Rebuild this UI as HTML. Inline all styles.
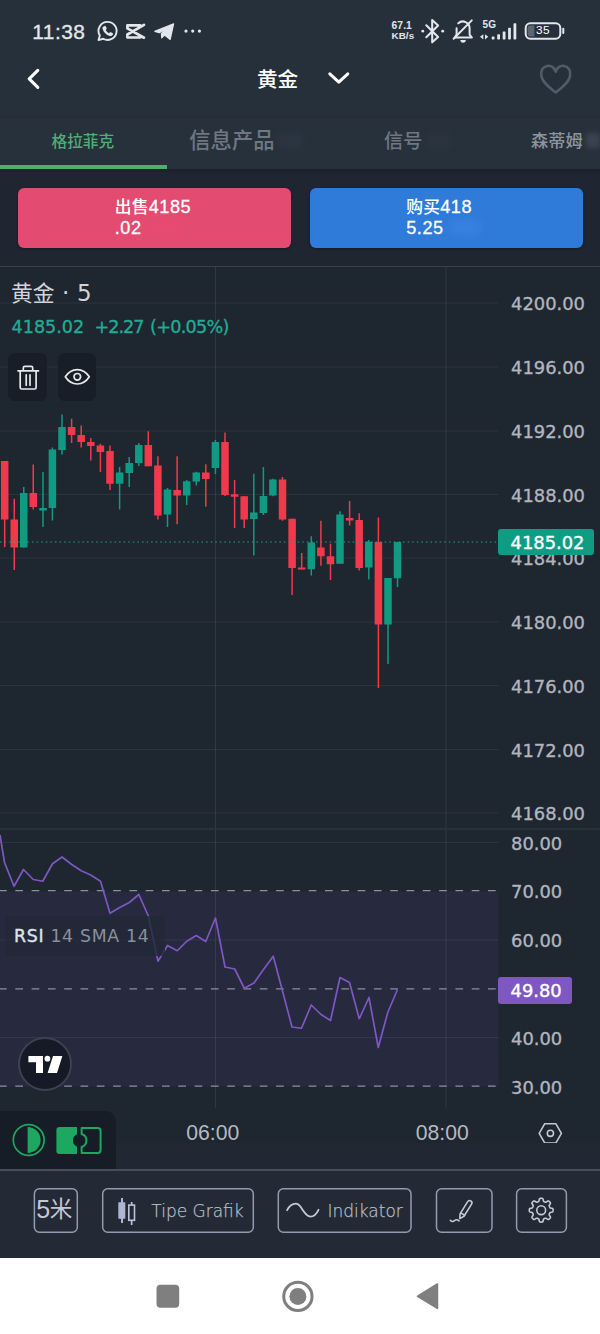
<!DOCTYPE html><html lang="zh"><head><meta charset="utf-8"><title>黄金</title>
<style>
*{box-sizing:border-box}
html,body{margin:0;padding:0}
body{width:600px;height:1334px;position:relative;overflow:hidden;background:#1f2631;
 font-family:"Liberation Sans","Noto Sans CJK SC",sans-serif;color:#fff}
.abs{position:absolute}
#hdr{position:absolute;left:0;top:0;width:600px;height:117px;background:#26303b}
#tabs{position:absolute;left:0;top:117px;width:600px;height:52px;background:#27313c}
#hsh{position:absolute;left:0;top:113px;width:600px;height:6px;background:linear-gradient(180deg,rgba(30,37,48,0),rgba(30,37,48,0.12) 40%,rgba(30,37,48,0.5) 66%,rgba(30,37,48,0.12) 88%,rgba(30,37,48,0))}
#tsh{position:absolute;left:0;top:169px;width:600px;height:5px;background:linear-gradient(180deg,rgba(20,25,33,0.35),rgba(20,25,33,0))}
.tab{position:absolute;white-space:nowrap;line-height:1}
.btn{position:absolute;top:187.5px;height:60px;border-radius:6px;color:#fff;font-size:18.1px;line-height:21.6px;overflow:hidden;box-shadow:0 1px 2.5px rgba(0,0,0,0.35)}
.btn span{position:absolute;top:9px;white-space:nowrap;-webkit-text-stroke:0.3px #fff;letter-spacing:0.5px}
.btn b{font-weight:500;font-size:16.8px;letter-spacing:0.2px;-webkit-text-stroke:0}
.ax{position:absolute;left:511px;height:22px;line-height:22px;font-family:"DejaVu Sans","Liberation Sans",sans-serif;
 font-size:17.9px;color:#b2b5be;white-space:nowrap;-webkit-text-stroke:0.35px #b2b5be}
.tv{font-family:"DejaVu Sans","Liberation Sans","Noto Sans CJK SC",sans-serif}
#tool{position:absolute;left:0;top:1169px;width:600px;height:89px;background:#232a36;border-top:2px solid #464e5c}
.tb{position:absolute;top:1188.5px;height:44px;border:1.6px solid #8f99ab;border-radius:5px}
.tb span{position:absolute;top:0;line-height:41px;font-family:"DejaVu Sans","Liberation Sans",sans-serif;font-size:17px;color:#aab2c0;white-space:nowrap}
#nav{position:absolute;left:0;top:1258px;width:600px;height:76px;background:#fff}
</style></head><body>
<div id="hdr">
<div class="abs" style="left:32.300px;top:20px;font-size:20.900px;line-height:24px;color:#e3e6ea;letter-spacing:0.45px;-webkit-text-stroke:0.35px #e3e6ea">11:38</div>
<svg class="abs" style="left:0;top:0" width="600" height="52" viewBox="0 0 600 52" fill="none" stroke="#e3e6ea">
<path d="M107.6 21.9a9 9 0 1 1-4.4 16.85l-4.7 1.35 1.35-4.5a9 9 0 0 1 7.75-13.7z" stroke-width="1.9" stroke-linejoin="round"/>
<path d="M104.6 25.9c.5-.2 1 0 1.2.5l.8 1.7c.2.4.1.8-.2 1.1l-.7.8c.7 1.4 1.800 2.500 3.200 3.200l.8-.7c.3-.3.700-.4 1.100-.2l1.700.8c.5.200.700.700.500 1.200-.5 1.400-1.900 2.100-3.300 1.700-3.500-1-6.200-3.700-7.200-7.200-.400-1.400.500-2.500 2.100-2.900z" fill="#e3e6ea" stroke="none"/>
<path d="M127.400 28.400V25.400H140.200M127.400 34.500V37.500H140.200M127.400 28.400L144 37.700M127.400 34.500L144 24.800" stroke-width="2.700" stroke-linejoin="round" stroke-linecap="round"/>
<path d="M154.800 31.400l18.800-7.600-3.400 15.600-5.600-4.300-2.900 2.800-.3-4.500 7.300-6.600-9.300 5.900z" fill="#e3e6ea" stroke="#e3e6ea" stroke-width="1.200" stroke-linejoin="round"/>
<circle cx="186" cy="31.100" r="1.600" fill="#e3e6ea" stroke="none"/>
<circle cx="192.7" cy="31.100" r="1.600" fill="#e3e6ea" stroke="none"/>
<circle cx="199.4" cy="31.100" r="1.600" fill="#e3e6ea" stroke="none"/>
<path d="M426.300 25.300l11.800 11.700-5.900 5.300v-22.200l5.900 5.400-11.800 11.700" stroke-width="2.100" stroke-linejoin="round" stroke-linecap="round"/>
<circle cx="422.800" cy="31.200" r="1.400" fill="#e3e6ea" stroke="none"/><circle cx="442.700" cy="31.200" r="1.400" fill="#e3e6ea" stroke="none"/>
<path d="M455.500 37.600h16.400l-2.300-3v-6.300a6.700 6.700 0 0 0-11.300-5M456.600 28.300v6.300l-1.900 3" stroke-width="2" stroke-linejoin="round" stroke-linecap="round"/>
<path d="M471.800 20.400l-18.200 18.400" stroke-width="2" stroke-linecap="round"/>
<path d="M460.400 40a2.700 2.700 0 0 0 5.400 0z" fill="#e3e6ea" stroke="none"/>
<path d="M480 36.800l3.300-2.600v5.200zM488.300 36.800l-3.300 2.600v-5.200z" fill="#e3e6ea" stroke="none"/>
<rect x="491.7" y="36.4" width="2.800" height="3.00" rx="0.700" fill="#e3e6ea" stroke="none"/>
<rect x="497.2" y="34.2" width="2.800" height="5.20" rx="0.700" fill="#e3e6ea" stroke="none"/>
<rect x="502.7" y="31.4" width="2.800" height="8.00" rx="0.700" fill="#e3e6ea" stroke="none"/>
<rect x="508.1" y="27.8" width="2.800" height="11.60" rx="0.700" fill="#e3e6ea" stroke="none"/>
<rect x="513.5" y="23.2" width="2.800" height="16.20" rx="0.700" fill="#e3e6ea" stroke="none"/>
<rect x="525.700" y="23.300" width="34.600" height="15.400" rx="4.600" stroke-width="2"/>
<path d="M529.800 25.600h4.600v10.800h-4.600a2.200 2.200 0 0 1-2.200-2.200v-6.400a2.200 2.200 0 0 1 2.200-2.200z" fill="#5d6570" stroke="none"/>
<rect x="562.300" y="27.800" width="2" height="6.200" rx="0.900" fill="#e3e6ea" stroke="none"/>
</svg>
<div class="abs" style="left:391.500px;top:20.800px;font-size:10.300px;line-height:10px;font-weight:700;color:#e3e6ea;letter-spacing:0.1px">67.1<br><span style="font-size:9.800px">KB/s</span></div>
<div class="abs" style="left:482.600px;top:20.200px;font-size:10px;line-height:10px;font-weight:700;color:#e3e6ea">5G</div>
<div class="abs" style="left:525.700px;top:23.300px;width:34.600px;text-align:center;font-size:11.800px;line-height:15.600px;color:#fff;letter-spacing:0.3px">35</div>
<svg class="abs" style="left:20px;top:60px" width="30" height="36" viewBox="20 60 30 36" fill="none" stroke="#fff" stroke-width="3.100" stroke-linecap="round" stroke-linejoin="round"><path d="M37.800 70.300l-8.600 8.500 8.600 8.500"/></svg>
<div class="abs" style="left:257px;top:65.500px;font-size:20.600px;line-height:28px;font-weight:500;color:#fff;font-family:'Liberation Sans','Noto Sans CJK SC',sans-serif">黄金</div>
<svg class="abs" style="left:320px;top:64px" width="40" height="28" viewBox="320 64 40 28" fill="none" stroke="#fff" stroke-width="3" stroke-linecap="round" stroke-linejoin="round"><path d="M329.800 73.800l9 8.300 9-8.300"/></svg>
<svg class="abs" style="left:534px;top:60px" width="44" height="40" viewBox="534 60 44 40" fill="none" stroke="#525b68" stroke-width="2.600" stroke-linejoin="round"><path d="M555.700 92.500c-9-6.800-14.400-12-14.400-18a7.300 7.300 0 0 1 14.400-2.700 7.300 7.300 0 0 1 14.400 2.700c0 6-5.400 11.200-14.400 18z"/></svg>
</div>
<div id="tabs">
<div class="tab" style="left:51.500px;top:17px;font-size:15.700px;color:#4fae74;font-weight:500">格拉菲克</div>
<div class="tab" style="left:189.300px;top:14.300px;font-size:21.300px;color:#6f7783;font-weight:500">信息产品</div>
<div class="tab" style="left:384px;top:14.500px;font-size:19.200px;color:#6f7783;font-weight:500">信号</div>
<div class="tab" style="left:531px;top:16px;font-size:17.200px;color:#8d949e;font-weight:500">森蒂姆</div>
<div class="abs" style="left:277px;top:17px;width:26px;height:14px;background:#2c3541;filter:blur(3px);border-radius:4px"></div>
<div class="abs" style="left:428px;top:17px;width:22px;height:14px;background:#2b343f;filter:blur(3px);border-radius:4px"></div>
<div class="abs" style="left:586px;top:16px;width:14px;height:15px;background:#3a434f;filter:blur(2.500px);border-radius:3px"></div>
<div class="abs" style="left:0;top:48px;width:166.500px;height:4.300px;background:#4caf6e"></div>
</div>
<div id="hsh"></div><div id="tsh"></div>
<div class="btn" style="left:17.500px;width:273.500px;background:#e34c70"><div class="abs" style="left:130px;top:33px;width:36px;height:13px;background:#ea4a72;filter:blur(4px);opacity:.8"></div><span style="left:97.300px"><b>出售</b>4185<br>.02</span></div>
<div class="btn" style="left:310px;width:272.500px;background:#2f7bd9"><div class="abs" style="left:140px;top:33px;width:30px;height:13px;background:#3b86e2;filter:blur(4px);opacity:.8"></div><span style="left:96.300px"><b>购买</b>418<br>5.25</span></div>
<svg id="chart" width="600" height="903" viewBox="0 266 600 903" style="position:absolute;left:0;top:266px">
<rect x="0" y="266" width="600" height="903" fill="#1e2630"/>
<rect x="0" y="891.3" width="498.5" height="195.5" fill="#27293e"/>
<rect x="0" y="302.5" width="498.5" height="1" fill="rgba(235,240,250,0.068)"/>
<rect x="0" y="366.5" width="498.5" height="1" fill="rgba(235,240,250,0.068)"/>
<rect x="0" y="430.5" width="498.5" height="1" fill="rgba(235,240,250,0.068)"/>
<rect x="0" y="494.0" width="498.5" height="1" fill="rgba(235,240,250,0.068)"/>
<rect x="0" y="557.5" width="498.5" height="1" fill="rgba(235,240,250,0.068)"/>
<rect x="0" y="621.5" width="498.5" height="1" fill="rgba(235,240,250,0.068)"/>
<rect x="0" y="685.0" width="498.5" height="1" fill="rgba(235,240,250,0.068)"/>
<rect x="0" y="749.0" width="498.5" height="1" fill="rgba(235,240,250,0.068)"/>
<rect x="0" y="812.5" width="498.5" height="1" fill="rgba(235,240,250,0.068)"/>
<rect x="0" y="842.0" width="498.5" height="1" fill="rgba(235,240,250,0.068)"/>
<rect x="0" y="939.5" width="498.5" height="1" fill="rgba(235,240,250,0.068)"/>
<rect x="0" y="1037.0" width="498.5" height="1" fill="rgba(235,240,250,0.068)"/>
<rect x="215.0" y="266" width="1" height="842" fill="rgba(235,240,250,0.085)"/>
<rect x="445.5" y="266" width="1" height="842" fill="rgba(235,240,250,0.085)"/>
<rect x="0" y="265.3" width="600" height="1.6" fill="#3a424f"/>
<rect x="0" y="828.1" width="600" height="1.8" fill="#2a323d"/>
<rect x="3.95" y="461" width="1.5" height="86.00" fill="#f03a4c"/>
<rect x="0.95" y="461" width="7.5" height="58.50" fill="#f03a4c"/>
<rect x="13.50" y="498.75" width="1.5" height="71.25" fill="#f03a4c"/>
<rect x="10.50" y="519.5" width="7.5" height="28.00" fill="#f03a4c"/>
<rect x="23.00" y="487" width="1.5" height="60.50" fill="#0f9b83"/>
<rect x="20.00" y="493" width="7.5" height="54.50" fill="#0f9b83"/>
<rect x="32.50" y="464.5" width="1.5" height="45.00" fill="#f03a4c"/>
<rect x="29.50" y="493" width="7.5" height="14.00" fill="#f03a4c"/>
<rect x="42.25" y="472" width="1.5" height="55.00" fill="#0f9b83"/>
<rect x="39.25" y="508" width="7.5" height="2.50" fill="#0f9b83"/>
<rect x="51.65" y="447.5" width="1.5" height="73.00" fill="#0f9b83"/>
<rect x="48.65" y="449.5" width="7.5" height="58.50" fill="#0f9b83"/>
<rect x="61.25" y="414.5" width="1.5" height="40.00" fill="#0f9b83"/>
<rect x="58.25" y="427" width="7.5" height="23.00" fill="#0f9b83"/>
<rect x="70.85" y="418.75" width="1.5" height="24.25" fill="#f03a4c"/>
<rect x="67.85" y="427" width="7.5" height="8.00" fill="#f03a4c"/>
<rect x="80.45" y="425.5" width="1.5" height="22.00" fill="#f03a4c"/>
<rect x="77.45" y="435" width="7.5" height="7.00" fill="#f03a4c"/>
<rect x="90.05" y="438" width="1.5" height="22.50" fill="#f03a4c"/>
<rect x="87.05" y="442" width="7.5" height="4.00" fill="#f03a4c"/>
<rect x="99.65" y="443.75" width="1.5" height="28.25" fill="#f03a4c"/>
<rect x="96.65" y="445.5" width="7.5" height="6.50" fill="#f03a4c"/>
<rect x="109.25" y="445.5" width="1.5" height="44.50" fill="#f03a4c"/>
<rect x="106.25" y="451" width="7.5" height="32.75" fill="#f03a4c"/>
<rect x="118.85" y="467" width="1.5" height="42.50" fill="#0f9b83"/>
<rect x="115.85" y="472.5" width="7.5" height="11.25" fill="#0f9b83"/>
<rect x="128.45" y="457" width="1.5" height="30.00" fill="#0f9b83"/>
<rect x="125.45" y="463" width="7.5" height="10.00" fill="#0f9b83"/>
<rect x="138.05" y="443" width="1.5" height="23.00" fill="#0f9b83"/>
<rect x="135.05" y="445" width="7.5" height="18.00" fill="#0f9b83"/>
<rect x="147.55" y="431.25" width="1.5" height="35.00" fill="#f03a4c"/>
<rect x="144.55" y="445" width="7.5" height="21.25" fill="#f03a4c"/>
<rect x="157.15" y="456.25" width="1.5" height="63.25" fill="#f03a4c"/>
<rect x="154.15" y="465.5" width="7.5" height="50.00" fill="#f03a4c"/>
<rect x="166.75" y="488" width="1.5" height="39.00" fill="#0f9b83"/>
<rect x="163.75" y="489.5" width="7.5" height="25.00" fill="#0f9b83"/>
<rect x="176.35" y="456.25" width="1.5" height="68.00" fill="#f03a4c"/>
<rect x="173.35" y="490" width="7.5" height="5.50" fill="#f03a4c"/>
<rect x="185.95" y="480" width="1.5" height="25.00" fill="#0f9b83"/>
<rect x="182.95" y="481.25" width="7.5" height="14.25" fill="#0f9b83"/>
<rect x="195.55" y="471.75" width="1.5" height="13.75" fill="#0f9b83"/>
<rect x="192.55" y="472.5" width="7.5" height="9.00" fill="#0f9b83"/>
<rect x="205.05" y="464.25" width="1.5" height="42.50" fill="#f03a4c"/>
<rect x="202.05" y="472.5" width="7.5" height="6.50" fill="#f03a4c"/>
<rect x="214.65" y="440" width="1.5" height="34.00" fill="#0f9b83"/>
<rect x="211.65" y="442" width="7.5" height="26.00" fill="#0f9b83"/>
<rect x="224.25" y="432.5" width="1.5" height="63.50" fill="#f03a4c"/>
<rect x="221.25" y="442" width="7.5" height="53.00" fill="#f03a4c"/>
<rect x="233.85" y="480" width="1.5" height="48.00" fill="#f03a4c"/>
<rect x="230.85" y="494.25" width="7.5" height="2.50" fill="#f03a4c"/>
<rect x="243.45" y="496.25" width="1.5" height="31.75" fill="#f03a4c"/>
<rect x="240.45" y="496.25" width="7.5" height="23.25" fill="#f03a4c"/>
<rect x="253.05" y="473.75" width="1.5" height="81.75" fill="#0f9b83"/>
<rect x="250.05" y="512.5" width="7.5" height="6.50" fill="#0f9b83"/>
<rect x="262.65" y="467" width="1.5" height="48.00" fill="#0f9b83"/>
<rect x="259.65" y="496" width="7.5" height="17.00" fill="#0f9b83"/>
<rect x="272.15" y="478.75" width="1.5" height="17.50" fill="#0f9b83"/>
<rect x="269.15" y="479.5" width="7.5" height="16.00" fill="#0f9b83"/>
<rect x="281.75" y="477" width="1.5" height="43.75" fill="#f03a4c"/>
<rect x="278.75" y="479.5" width="7.5" height="40.00" fill="#f03a4c"/>
<rect x="291.35" y="518.75" width="1.5" height="76.25" fill="#f03a4c"/>
<rect x="288.35" y="518.75" width="7.5" height="49.25" fill="#f03a4c"/>
<rect x="300.95" y="553" width="1.5" height="16.50" fill="#f03a4c"/>
<rect x="297.95" y="567.5" width="7.5" height="2.00" fill="#f03a4c"/>
<rect x="310.55" y="536.25" width="1.5" height="39.25" fill="#0f9b83"/>
<rect x="307.55" y="542.5" width="7.5" height="26.75" fill="#0f9b83"/>
<rect x="320.15" y="520.75" width="1.5" height="45.00" fill="#f03a4c"/>
<rect x="317.15" y="547.5" width="7.5" height="8.75" fill="#f03a4c"/>
<rect x="329.75" y="543.75" width="1.5" height="36.25" fill="#f03a4c"/>
<rect x="326.75" y="556.25" width="7.5" height="8.00" fill="#f03a4c"/>
<rect x="339.25" y="511.25" width="1.5" height="52.50" fill="#0f9b83"/>
<rect x="336.25" y="514.5" width="7.5" height="49.25" fill="#0f9b83"/>
<rect x="348.85" y="501" width="1.5" height="24.50" fill="#f03a4c"/>
<rect x="345.85" y="518" width="7.5" height="2.50" fill="#f03a4c"/>
<rect x="358.45" y="513.25" width="1.5" height="57.25" fill="#f03a4c"/>
<rect x="355.45" y="520" width="7.5" height="48.00" fill="#f03a4c"/>
<rect x="368.05" y="540" width="1.5" height="39.50" fill="#0f9b83"/>
<rect x="365.05" y="541.75" width="7.5" height="25.75" fill="#0f9b83"/>
<rect x="377.65" y="517.5" width="1.5" height="170.50" fill="#f03a4c"/>
<rect x="374.65" y="542" width="7.5" height="82.50" fill="#f03a4c"/>
<rect x="387.25" y="578" width="1.5" height="86.00" fill="#0f9b83"/>
<rect x="384.25" y="578" width="7.5" height="46.50" fill="#0f9b83"/>
<rect x="396.75" y="542" width="1.5" height="45.00" fill="#0f9b83"/>
<rect x="393.75" y="542" width="7.5" height="36.25" fill="#0f9b83"/>
<line x1="0" y1="542" x2="498.5" y2="542" stroke="#20a18a" stroke-width="1.2" stroke-dasharray="1.5 3.08"/>
<line x1="0" y1="890.7" x2="498.5" y2="890.7" stroke="#8c909b" stroke-width="1.3" stroke-dasharray="7.7 8.6" stroke-dashoffset="1"/>
<line x1="0" y1="988.8" x2="498.5" y2="988.8" stroke="#8c909b" stroke-width="1.3" stroke-dasharray="7.7 8.6" stroke-dashoffset="1"/>
<line x1="0" y1="1086.2" x2="498.5" y2="1086.2" stroke="#8c909b" stroke-width="1.3" stroke-dasharray="7.7 8.6" stroke-dashoffset="1"/>
<polyline points="0,835 4.5,862.5 14,886.25 23.5,869.5 33.25,879.5 42.75,881.25 52.5,863.75 62,857 71.75,864.5 81.25,870.75 90.75,875 100.5,881.25 110,913.25 119.75,907.5 129.25,902.5 138.8,894.5 148.25,915.75 158,961.25 167.5,945.5 177.25,950.75 186.75,941.25 196.25,935.5 205.75,941.5 215.5,918 225,967 234.75,969 244.25,988.25 254,983 263.5,969.5 273.25,956.25 282.5,991 292,1027 301.5,1028.25 311.25,1005 320.75,1014.25 330.5,1020.5 340,977.5 349.5,982.5 359.25,1018.75 369,997.5 378.25,1047.5 387.75,1012.5 397.5,989.5" fill="none" stroke="#7e57c2" stroke-width="1.7" stroke-linejoin="round"/>
</svg>
<div class="ax" style="top:293px">4200.00</div>
<div class="ax" style="top:357px">4196.00</div>
<div class="ax" style="top:421px">4192.00</div>
<div class="ax" style="top:484.5px">4188.00</div>
<div class="ax" style="top:548px">4184.00</div>
<div class="ax" style="top:612px">4180.00</div>
<div class="ax" style="top:675.5px">4176.00</div>
<div class="ax" style="top:739.5px">4172.00</div>
<div class="ax" style="top:803px">4168.00</div>
<div class="ax" style="top:832.5px">80.00</div>
<div class="ax" style="top:881.3px">70.00</div>
<div class="ax" style="top:930px">60.00</div>
<div class="ax" style="top:1027.5px">40.00</div>
<div class="ax" style="top:1076.5px">30.00</div>
<div class="abs tv" style="left:11px;top:279px;font-size:23px;line-height:28px;color:#d1d4dc;white-space:nowrap;word-spacing:0.200px"><span style="font-size:21.800px">黄金</span> · 5</div>
<div class="abs tv" style="left:11.500px;top:315.500px;font-size:17.600px;line-height:22px;color:#22ab94;white-space:nowrap;-webkit-text-stroke:0.350px #22ab94">4185.02</div>
<div class="abs tv" style="left:94.500px;top:315.500px;font-size:17.600px;line-height:22px;color:#22ab94;white-space:nowrap;-webkit-text-stroke:0.350px #22ab94;letter-spacing:-1px">+2.27</div>
<div class="abs tv" style="left:150px;top:315.500px;font-size:17.600px;line-height:22px;color:#22ab94;white-space:nowrap;-webkit-text-stroke:0.350px #22ab94;letter-spacing:-0.700px">(+0.05%)</div>
<div class="abs" style="left:8.400px;top:353.200px;width:38.800px;height:47.800px;border-radius:7px;background:#171e28"></div>
<div class="abs" style="left:57.600px;top:353.200px;width:38.600px;height:47.800px;border-radius:7px;background:#171e28"></div>
<svg class="abs" style="left:9px;top:353px" width="87" height="48" viewBox="9 353 87 48" fill="none" stroke="#e6e8ec" stroke-width="1.700" stroke-linecap="round" stroke-linejoin="round">
<path d="M18 370.800h20.500M23.300 370.500v-2.700a1.500 1.500 0 0 1 1.500-1.500h6.400a1.500 1.500 0 0 1 1.500 1.500v2.700M20.200 371.300v16.200a1.500 1.500 0 0 0 1.500 1.500h12.900a1.500 1.500 0 0 0 1.500-1.500v-16.200M26.200 374.800v10.400M30 374.800v10.400"/>
<path d="M65.300 376.800c3-4.700 7.200-7.200 12-7.200s9 2.500 12 7.200c-3 4.700-7.200 7.200-12 7.200s-9-2.500-12-7.200z"/><circle cx="77.300" cy="376.800" r="3.300"/>
</svg>
<div class="abs tv" style="left:498px;top:528.500px;width:96px;height:26.500px;border-radius:3px;background:#0f9c83;color:#fff;font-size:17.900px;line-height:28px;padding-left:12.500px;-webkit-text-stroke:0.400px #fff">4185.02</div>
<div class="abs tv" style="left:5px;top:916px;width:160px;height:40px;border-radius:3px;background:rgba(35,40,56,0.8);font-size:17.300px;line-height:41px;padding-left:9px;color:#8b909c;white-space:nowrap;letter-spacing:0.700px"><span style="color:#dfe2e8;-webkit-text-stroke:0.400px #dfe2e8">RSI</span> 14 SMA 14</div>
<div class="abs tv" style="left:498px;top:976.500px;width:74px;height:27px;border-radius:3px;background:#7e57c2;color:#fff;font-size:17.900px;line-height:28.500px;padding-left:12.500px;-webkit-text-stroke:0.400px #fff">49.80</div>
<svg class="abs" style="left:16px;top:1035px" width="58" height="58" viewBox="16 1035 58 58"><circle cx="45" cy="1064" r="26" fill="#161a26" stroke="#3d4252" stroke-width="2"/><path d="M28.400 1056h14.600v17h-7v-10.800h-7.600zM53 1056h9.400l-5.400 17h-9.400z" fill="#fff"/><circle cx="47.400" cy="1058.700" r="2.900" fill="#fff"/></svg>
<div class="abs" style="left:186.300px;top:1120.500px;font-size:21.200px;line-height:24px;color:#b6bac3;white-space:nowrap">06:00</div>
<div class="abs" style="left:415.800px;top:1120.500px;font-size:21.200px;line-height:24px;color:#b6bac3;white-space:nowrap">08:00</div>
<svg class="abs" style="left:536px;top:1120px" width="28" height="28" viewBox="536 1120 28 28" fill="none" stroke="#c3c7cf" stroke-width="1.600" stroke-linejoin="round"><path d="M539.200 1133.400l5.600-9.700h11l5.600 9.700-5.600 9.700h-11z"/><circle cx="550.400" cy="1133.300" r="3.100"/></svg>
<div class="abs" style="left:0;top:1142.500px;width:600px;height:26.500px;background:#212834"></div>
<div class="abs" style="left:0;top:1110.500px;width:116px;height:59px;border-top-right-radius:11px;background:#161d27"></div>
<svg class="abs" style="left:0;top:1110px" width="116" height="59" viewBox="0 1110 116 59">
<circle cx="28.700" cy="1140" r="15.400" fill="none" stroke="#1ca861" stroke-width="1.700"/>
<path d="M27.600 1127a13 13 0 0 1 0 26z" fill="#1ca861"/>
<path d="M59.400 1127H77V1134.370A6.700 6.700 0 0 0 77 1146.630V1154H59.400a3 3 0 0 1-3-3v-21a3 3 0 0 1 3-3z" fill="#1ca861"/>
<path d="M81.600 1128H97.600a3 3 0 0 1 3 3V1150a3 3 0 0 1-3 3H81.600V1146.920A6.700 6.700 0 0 0 81.600 1134.080z" fill="none" stroke="#1ca861" stroke-width="2" stroke-linejoin="round"/>
</svg>
<div id="tool"></div>
<svg class="abs" style="left:0;top:1180px" width="600" height="60" viewBox="0 1180 600 60" fill="none" stroke="#929cae" stroke-width="1.500">
<rect x="34.4" y="1188.700" width="42.9" height="43.600" rx="5"/>
<rect x="102.7" y="1188.700" width="150.6" height="43.600" rx="5"/>
<rect x="278.3" y="1188.700" width="132.7" height="43.600" rx="5"/>
<rect x="436.5" y="1188.700" width="55.5" height="43.600" rx="5"/>
<rect x="516.6" y="1188.700" width="49.8" height="43.600" rx="5"/>
</svg>
<div style="position:absolute;left:36.200px;top:1194.300px;white-space:nowrap;font-size:25px;line-height:30px;color:#c2c8d3;font-family:'Liberation Sans','Noto Sans CJK SC',sans-serif">5<span style="font-size:22.600px;margin-left:-0.300px;position:relative;top:-1.200px">米</span></div>
<div style="position:absolute;white-space:nowrap;font-family:'DejaVu Sans','Liberation Sans',sans-serif;font-size:17px;line-height:22px;color:#b4bbc8;font-weight:200;-webkit-text-stroke:0.25px #b4bbc8;left:151.300px;top:1199.500px">Tipe Grafik</div>
<div style="position:absolute;white-space:nowrap;font-family:'DejaVu Sans','Liberation Sans',sans-serif;font-size:17px;line-height:22px;color:#b4bbc8;font-weight:200;-webkit-text-stroke:0.25px #b4bbc8;left:327.500px;top:1199.500px">Indikator</div>
<svg class="abs" style="left:115px;top:1195px" width="26" height="34" viewBox="115 1195 26 34"><rect x="121" y="1198" width="2" height="25" fill="#adb5d3"/><rect x="118.300" y="1202.300" width="7" height="16.400" rx="0.400" fill="#adb5d3"/><rect x="130.800" y="1202" width="1.700" height="3" fill="#bcc2d9"/><rect x="130.800" y="1220.500" width="1.700" height="4.500" fill="#bcc2d9"/><rect x="128.800" y="1205.100" width="5.700" height="15.200" fill="none" stroke="#bcc2d9" stroke-width="1.600"/></svg>
<svg class="abs" style="left:284px;top:1198px" width="38" height="24" viewBox="284 1198 38 24" fill="none" stroke="#c3c9d6" stroke-width="1.800" stroke-linecap="round"><path d="M287.100 1210.200C289.300 1206 292.300 1203.700 295.800 1203.700S300.700 1207 302.900 1210.300S307 1216.600 310.400 1216.600S316.500 1214 318.500 1209.800"/></svg>
<svg class="abs" style="left:445px;top:1195px" width="36" height="32" viewBox="445 1195 36 32" fill="none" stroke="#c3c9d6" stroke-width="1.600" stroke-linecap="round" stroke-linejoin="round"><path d="M459.800 1218.600L463.980 1216.260L471.560 1204.130A2.300 2.300 0 0 0 467.660 1201.690L460.080 1213.820Z"/><path d="M464.600 1215.300L460.700 1212.850"/><path d="M450.300 1220.300c1.500 1.700 3 1.400 4.300.3s2.800-1.100 4.500.2"/></svg>
<svg class="abs" style="left:525px;top:1194px" width="34" height="34" viewBox="525 1194 34 34" fill="none" stroke="#c3c9d6" stroke-width="1.600" stroke-linejoin="round"><path d="M541.20 1198.30L541.51 1198.31L541.82 1198.33L542.13 1198.37L542.43 1198.45L542.72 1198.62L542.98 1198.96L543.17 1199.57L543.30 1200.33L543.42 1200.94L543.59 1201.29L543.78 1201.48L543.99 1201.61L544.21 1201.70L544.43 1201.80L544.64 1201.89L544.86 1201.98L545.08 1202.07L545.30 1202.15L545.54 1202.21L545.81 1202.21L546.17 1202.08L546.69 1201.74L547.32 1201.29L547.89 1200.99L548.31 1200.93L548.63 1201.02L548.91 1201.18L549.15 1201.37L549.39 1201.57L549.61 1201.79L549.83 1202.01L550.03 1202.25L550.22 1202.49L550.38 1202.77L550.47 1203.09L550.41 1203.51L550.11 1204.08L549.66 1204.71L549.32 1205.23L549.19 1205.59L549.19 1205.86L549.25 1206.10L549.33 1206.32L549.42 1206.54L549.51 1206.76L549.60 1206.97L549.70 1207.19L549.79 1207.41L549.92 1207.62L550.11 1207.81L550.46 1207.98L551.07 1208.10L551.83 1208.23L552.44 1208.42L552.78 1208.68L552.95 1208.97L553.03 1209.27L553.07 1209.58L553.09 1209.89L553.10 1210.20L553.09 1210.51L553.07 1210.82L553.03 1211.13L552.95 1211.43L552.78 1211.72L552.44 1211.98L551.83 1212.17L551.07 1212.30L550.46 1212.42L550.11 1212.59L549.92 1212.78L549.79 1212.99L549.70 1213.21L549.60 1213.43L549.51 1213.64L549.42 1213.86L549.33 1214.08L549.25 1214.30L549.19 1214.54L549.19 1214.81L549.32 1215.17L549.66 1215.69L550.11 1216.32L550.41 1216.89L550.47 1217.31L550.38 1217.63L550.22 1217.91L550.03 1218.15L549.83 1218.39L549.61 1218.61L549.39 1218.83L549.15 1219.03L548.91 1219.22L548.63 1219.38L548.31 1219.47L547.89 1219.41L547.32 1219.11L546.69 1218.66L546.17 1218.32L545.81 1218.19L545.54 1218.19L545.30 1218.25L545.08 1218.33L544.86 1218.42L544.64 1218.51L544.43 1218.60L544.21 1218.70L543.99 1218.79L543.78 1218.92L543.59 1219.11L543.42 1219.46L543.30 1220.07L543.17 1220.83L542.98 1221.44L542.72 1221.78L542.43 1221.95L542.13 1222.03L541.82 1222.07L541.51 1222.09L541.20 1222.10L540.89 1222.09L540.58 1222.07L540.27 1222.03L539.97 1221.95L539.68 1221.78L539.42 1221.44L539.23 1220.83L539.10 1220.07L538.98 1219.46L538.81 1219.11L538.62 1218.92L538.41 1218.79L538.19 1218.70L537.97 1218.60L537.76 1218.51L537.54 1218.42L537.32 1218.33L537.10 1218.25L536.86 1218.19L536.59 1218.19L536.23 1218.32L535.71 1218.66L535.08 1219.11L534.51 1219.41L534.09 1219.47L533.77 1219.38L533.49 1219.22L533.25 1219.03L533.01 1218.83L532.79 1218.61L532.57 1218.39L532.37 1218.15L532.18 1217.91L532.02 1217.63L531.93 1217.31L531.99 1216.89L532.29 1216.32L532.74 1215.69L533.08 1215.17L533.21 1214.81L533.21 1214.54L533.15 1214.30L533.07 1214.08L532.98 1213.86L532.89 1213.64L532.80 1213.43L532.70 1213.21L532.61 1212.99L532.48 1212.78L532.29 1212.59L531.94 1212.42L531.33 1212.30L530.57 1212.17L529.96 1211.98L529.62 1211.72L529.45 1211.43L529.37 1211.13L529.33 1210.82L529.31 1210.51L529.30 1210.20L529.31 1209.89L529.33 1209.58L529.37 1209.27L529.45 1208.97L529.62 1208.68L529.96 1208.42L530.57 1208.23L531.33 1208.10L531.94 1207.98L532.29 1207.81L532.48 1207.62L532.61 1207.41L532.70 1207.19L532.80 1206.97L532.89 1206.76L532.98 1206.54L533.07 1206.32L533.15 1206.10L533.21 1205.86L533.21 1205.59L533.08 1205.23L532.74 1204.71L532.29 1204.08L531.99 1203.51L531.93 1203.09L532.02 1202.77L532.18 1202.49L532.37 1202.25L532.57 1202.01L532.79 1201.79L533.01 1201.57L533.25 1201.37L533.49 1201.18L533.77 1201.02L534.09 1200.93L534.51 1200.99L535.08 1201.29L535.71 1201.74L536.23 1202.08L536.59 1202.21L536.86 1202.21L537.10 1202.15L537.32 1202.07L537.54 1201.98L537.76 1201.89L537.97 1201.80L538.19 1201.70L538.41 1201.61L538.62 1201.48L538.81 1201.29L538.98 1200.94L539.10 1200.33L539.23 1199.57L539.42 1198.96L539.68 1198.62L539.97 1198.45L540.27 1198.37L540.58 1198.33L540.89 1198.31z"/><circle cx="541.2" cy="1210.2" r="4.400"/></svg>
<div id="nav"></div>
<svg class="abs" style="left:0;top:1258px" width="600" height="76" viewBox="0 1258 600 76">
<rect x="156.500" y="1284.800" width="22.700" height="23" rx="4" fill="#7f7f7f"/>
<circle cx="297.900" cy="1296.400" r="14.150" fill="none" stroke="#7f7f7f" stroke-width="3"/><circle cx="297.900" cy="1296.400" r="8.500" fill="#7f7f7f"/>
<path d="M437.400 1284.100v24.200l-19.800-12.100z" fill="#7f7f7f" stroke="#7f7f7f" stroke-width="1.700" stroke-linejoin="round"/>
</svg>
</body></html>
